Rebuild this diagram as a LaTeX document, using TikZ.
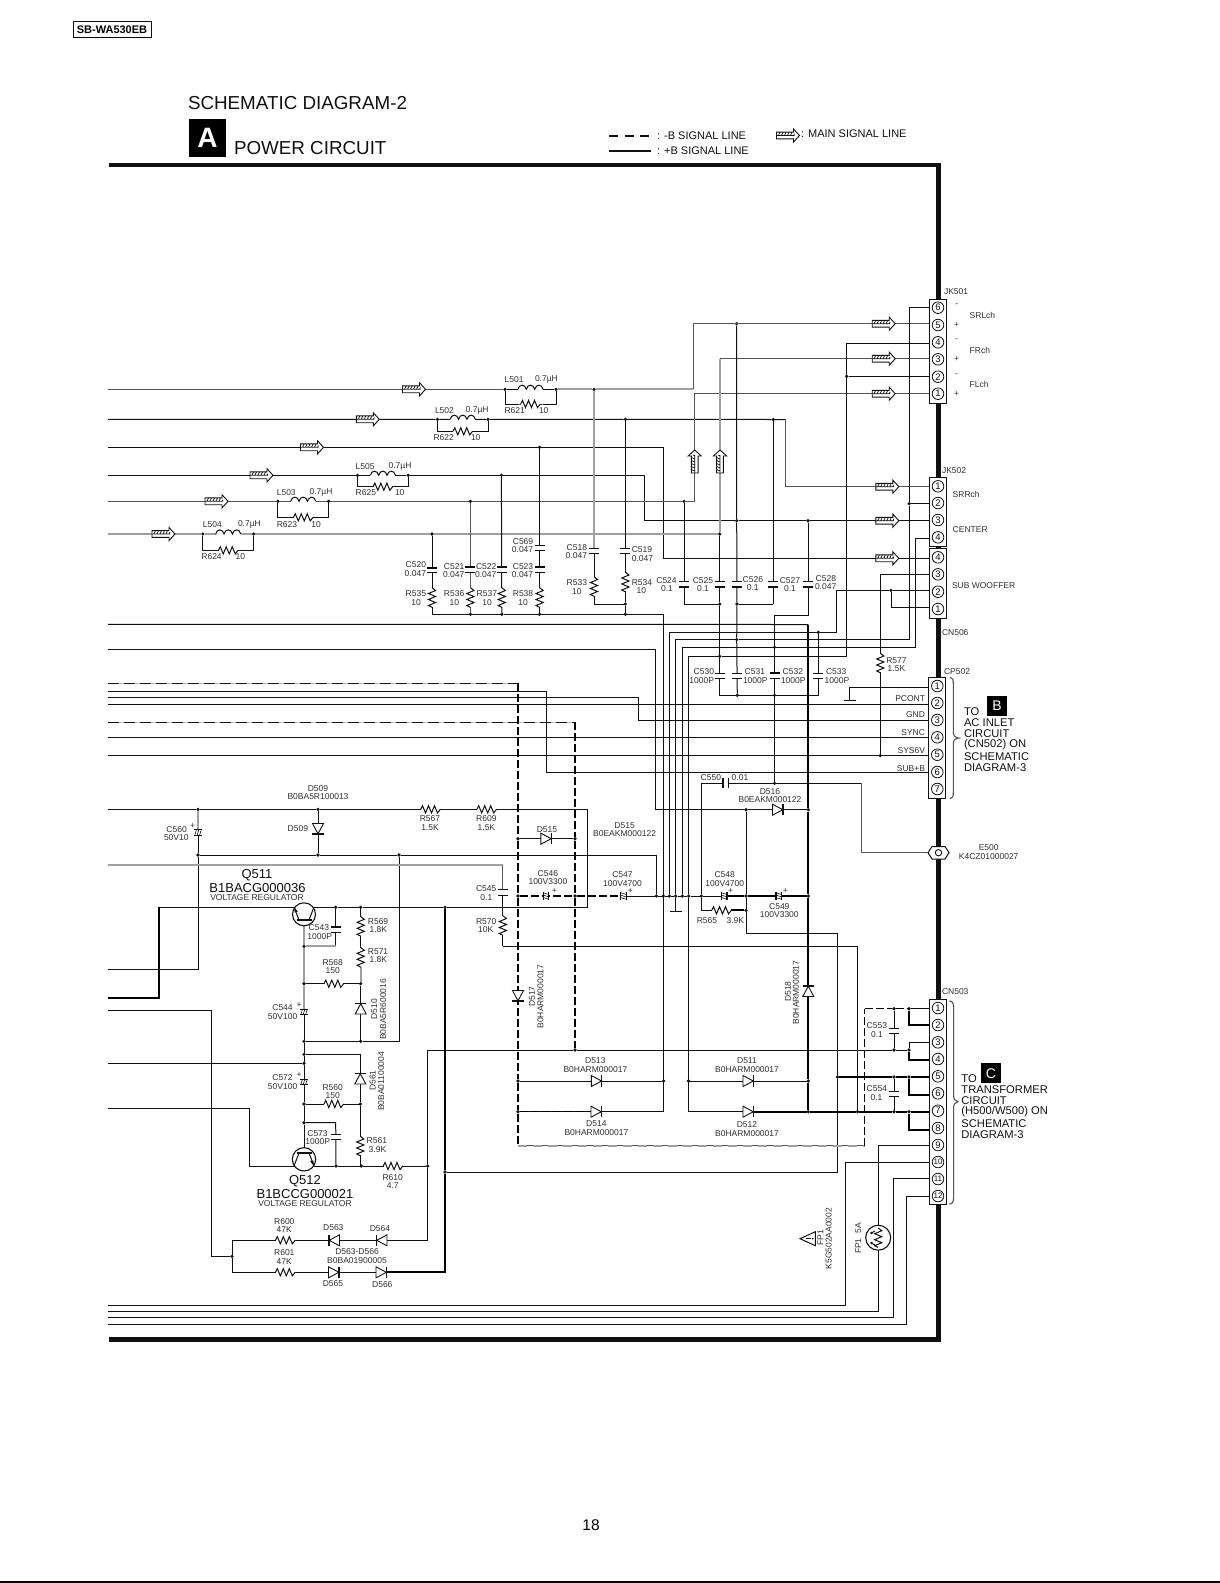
\documentclass[tikz,border=0pt]{standalone}
\usepackage{fontspec}
\setmainfont{Liberation Sans}
\usetikzlibrary{calc}
\definecolor{wcol}{HTML}{111111}
\definecolor{mcol}{HTML}{555555}
\definecolor{gcol}{HTML}{A0A0A0}
\definecolor{tcol}{HTML}{303030}
\newcounter{lc}
\newcounter{pc}
\tikzset{
  w/.style={line width=1pt,color=wcol},
  mw/.style={line width=1.1pt,color=mcol},
  gw/.style={line width=1.7pt,color=gcol},
  tw/.style={line width=2.1pt,color=black},
  dw/.style={line width=1.2pt,color=black,dash pattern=on 8pt off 3pt},
  gdw/.style={line width=1.6pt,color=gcol,dash pattern=on 9pt off 6pt},
  gsw/.style={line width=1.6pt,color=gcol!70},
  ddw/.style={line width=1.2pt,color=wcol,dash pattern=on 11pt off 5pt},
  frame/.style={line width=4.4pt,color=wcol},
  lbl/.style={inner sep=0pt,outer sep=0pt,yshift=-0.6pt,text=tcol,font=\fontsize{8.5}{10}\selectfont},
  midt/.style={text=wcol,font=\fontsize{11.2}{12}\selectfont},
  legt/.style={text=wcol,font=\fontsize{11}{12}\selectfont},
  bigt/.style={text=wcol,font=\fontsize{18.8}{20}\selectfont},
  qt/.style={text=wcol,font=\fontsize{13}{14}\selectfont},
  jdot/.style={circle,fill=wcol,inner sep=0pt,minimum size=3.6pt,outer sep=0pt},
  cbox/.style={draw=wcol,fill=white,line width=1.1pt,inner sep=0pt,outer sep=0pt},
  pinc/.style={circle,draw=wcol,fill=white,line width=0.8pt,inner sep=0pt,outer sep=0pt,minimum size=11.6pt,text=wcol,font=\fontsize{9.5}{10}\selectfont},
  badge/.style={fill=black,text=white,inner sep=0pt,outer sep=0pt},
  pics/zr/.style={code={
    \fill[white] (-9.4,-2.5) rectangle (9.4,2.5);
    \draw[w] (-9.8,0)--(-8,-3.6)--(-5,3.6)--(-2,-3.6)--(1,3.6)--(4,-3.6)--(7,3.6)--(9.8,0);}},
  pics/coil/.style={code={
    \fill[white] (-12.5,-1) rectangle (12.5,1);
    \draw[w] (-12.5,0) .. controls (-11.5,-5.5) and (-5.5,-5.5) .. (-4.2,0)
       .. controls (-3.2,-5.5) and (3.2,-5.5) .. (4.2,0)
       .. controls (5.5,-5.5) and (11.5,-5.5) .. (12.5,0);}},
  pics/cv/.style={code={
    \fill[white] (-5,-2.5) rectangle (5,2.5);
    \draw[line width=1.1pt,color=wcol] (-5,-2.7)--(5,-2.7) (-5,2.7)--(5,2.7);}},
  pics/cvb/.style={code={
    \fill[white] (-5,-2.5) rectangle (5,2.5);
    \draw[line width=2pt,color=black] (-5,-2.7)--(5,-2.7);
    \draw[line width=1.1pt,color=wcol] (-5,2.7)--(5,2.7);}},
  pics/pol/.style={code={
    \fill[white] (-4.2,-2.6) rectangle (4.2,2.6);
    \draw[line width=1.1pt,color=wcol] (-4.4,-2.8)--(4.4,-2.8) (-4.4,2.8)--(4.4,2.8);
    \draw[line width=0.6pt,color=wcol] (-3.2,2.6)--(-1.6,-2.6) (-0.8,2.6)--(0.8,-2.6) (1.6,2.6)--(3.2,-2.6);}},
  pics/dio/.style={code={
    \fill[white] (-5.5,-5.5) rectangle (5,5.5);
    \draw[line width=0.9pt,color=wcol,fill=white] (-5.5,-5.5)--(4.8,0)--(-5.5,5.5)--cycle;
    \draw[line width=1.2pt,color=wcol] (5,-5.6)--(5,5.6);}},
  pics/sarr/.style={code={
    \draw[line width=0.9pt,color=wcol,fill=white] (-11.5,-3.4)--(5.5,-3.4)--(5.5,-6.6)--(11.5,0)--(5.5,6.6)--(5.5,3.4)--(-11.5,3.4)--cycle;
    \draw[line width=0.7pt,color=wcol] (-11.5,0)--(6.5,0) (-9.5,0)--(-8,-3.4) (-6.5,0)--(-5,-3.4) (-3.5,0)--(-2,-3.4) (-0.5,0)--(1,-3.4) (2.5,0)--(4,-3.4) (5.5,0)--(6.5,-1.8);}},
  pics/gnd/.style={code={\draw[line width=1pt,color=wcol] (-6,0)--(6,0);}}
}
\newcommand\Tc[4][]{\stepcounter{lc}\node[lbl,#1] (lb\thelc) at (#2,#3) {#4};}
\newcommand\Te[4][]{\stepcounter{lc}\node[lbl,anchor=east,#1] (lb\thelc) at (#2,#3) {#4};}
\newcommand\Tw[4][]{\stepcounter{lc}\node[lbl,anchor=west,#1] (lb\thelc) at (#2,#3) {#4};}
\newcommand\jn[3]{\node[jdot] (#1) at (#2,#3) {};}
% pin: name, cx, cy, text, wire y, box-left x
\newcommand\pinn[6]{\node[pinc] (#1) at (#2,#3) {#4}; \coordinate (#1w) at (#6,#5);}
\newcommand\lrnet[3]{%
  \draw[w] (#1) |- ($(#1)!.5!(#2)+(0,#3)$) -| (#2);
  \pic at ($(#1)!.5!(#2)$) {coil};
  \pic at ($(#1)!.5!(#2)+(0,#3)$) {zr};}
\begin{document}
\begin{tikzpicture}[x=1pt,y=-1pt]
\useasboundingbox (0,0) rectangle (1220,1583);
\fill[white] (0,0) rectangle (1220,1583);
\fill[black] (0,1581.4) rectangle (1220,1583);

% frame
\coordinate (fa) at (108.5,165);
\coordinate (fb) at (938.4,165);
\coordinate (fc) at (938.4,1339.6);
\coordinate (fd) at (108.5,1339.6);
\draw[frame,miter limit=10] (fa)--(fb)--(fc)--(fd);

% header
\node[cbox,minimum width=78pt,minimum height=16pt,line width=1pt,font=\fontsize{11}{12}\selectfont\bfseries,text=black] (model) at (112,29.5) {SB-WA530EB};
\fill[black] (73,36.6) rectangle (151,38.4);
\Tw[bigt]{188}{102.5}{SCHEMATIC DIAGRAM-2}
\node[badge,minimum width=37pt,minimum height=38pt,font=\fontsize{28}{30}\selectfont\bfseries] (badgeA) at (207.5,138) {A};
\Tw[bigt]{234}{147}{POWER CIRCUIT}
\coordinate (lega) at (609,136); \coordinate (legb) at (651,136);
\coordinate (legc) at (609,151); \coordinate (legd) at (651,151);
\draw[line width=1.4pt,color=wcol,dash pattern=on 9pt off 6.5pt] (lega)--(legb);
\draw[line width=1.6pt,color=wcol] (legc)--(legd);
\Tw[legt]{657}{135.5}{: -B SIGNAL LINE}
\Tw[legt]{657}{150.5}{: +B SIGNAL LINE}
\pic at (788,135.5) {sarr};
\Tw[legt]{801}{133.5}{: MAIN SIGNAL LINE}
\Tc[font=\fontsize{15.5}{16}\selectfont,text=black]{591}{1525}{18}

% left edge coordinates
\foreach \n/\y in {e1/389.3,e2/419.3,e3/447.3,e4/475.3,e5/501.3,e6/534,e7/624.3,e8/649.3,e9/683.3,e10/691.7,e11/697.7,e12/704.3,e13/722.3,e14/737.3,e15/755.5,e16/809.3,e17/865,e18/969.3,e19/998,e20/1010.7,e21/1063.3,e22/1108.3,e23/1305.3,e24/1311.3,e25/1317.3,e26/1324.3}
  \coordinate (\n) at (108,\y);

% connector boxes
\node[cbox,minimum width=17pt,minimum height=104.4pt] (JK501) at (937.9,351.5) {};
\node[cbox,minimum width=17pt,minimum height=69.4pt] (JK502) at (937.9,512) {};
\node[cbox,minimum width=17pt,minimum height=69.6pt] (SW) at (937.9,583.5) {};
\node[cbox,minimum width=17.4pt,minimum height=121.4pt] (CP502) at (937,738) {};
\node[cbox,minimum width=16.8pt,minimum height=205pt] (CN503) at (938,1101.8) {};

% pins
\pinn{A6}{938}{307.7}{6}{307.7}{929.4}
\pinn{A5}{938}{325}{5}{323.7}{929.4}
\pinn{A4}{938}{342.3}{4}{343.3}{929.4}
\pinn{A3}{938}{359.3}{3}{358.7}{929.4}
\pinn{A2}{938}{376.7}{2}{376.3}{929.4}
\pinn{A1}{938}{393.7}{1}{393.7}{929.4}
\pinn{B1}{938}{486.3}{1}{486.7}{929.4}
\pinn{B2}{938}{503}{2}{503.7}{929.4}
\pinn{B3}{938}{520}{3}{520.7}{929.4}
\pinn{B4}{938}{537.3}{4}{538.3}{929.4}
\pinn{S4}{938}{557.3}{4}{558.3}{929.4}
\pinn{S3}{938}{574.3}{3}{574.3}{929.4}
\pinn{S2}{938}{591.7}{2}{590.3}{929.4}
\pinn{S1}{938}{609}{1}{607.3}{929.4}
\pinn{D1}{937.3}{686}{1}{687.7}{928.3}
\pinn{D2}{937.3}{703}{2}{704.3}{928.3}
\pinn{D3}{937.3}{720}{3}{720.3}{928.3}
\pinn{D4}{937.3}{737.3}{4}{737.3}{928.3}
\pinn{D5}{937.3}{754.7}{5}{755.5}{928.3}
\pinn{D6}{937.3}{772}{6}{772.5}{928.3}
\pinn{D7}{937.3}{789}{7}{789}{928.3}
\pinn{C1}{938}{1008}{1}{1008.7}{929.6}
\pinn{C2}{938}{1025}{2}{1025.3}{929.6}
\pinn{C3}{938}{1042.3}{3}{1042.3}{929.6}
\pinn{C4}{938}{1059}{4}{1059.7}{929.6}
\pinn{C5}{938}{1076.3}{5}{1077}{929.6}
\pinn{C6}{938}{1093.3}{6}{1095}{929.6}
\pinn{C7}{938}{1110.7}{7}{1111.7}{929.6}
\pinn{C8}{938}{1128}{8}{1129.7}{929.6}
\pinn{C9}{938}{1145}{9}{1145.7}{929.6}
\tikzset{pinc/.append style={font=\fontsize{8}{9}\selectfont}}
\pinn{C10}{938}{1162}{10}{1162.3}{929.6}
\pinn{C11}{938}{1179}{11}{1178.7}{929.6}
\pinn{C12}{938}{1196}{12}{1196}{929.6}

% junction dots
\jn{ja1}{505}{389.3}\jn{ja2}{556}{389.3}\jn{ja3}{594}{389.3}\jn{ja4}{736.7}{323.7}
\jn{jb1}{437.5}{419.3}\jn{jb2}{488}{419.3}\jn{jb3}{625.4}{419.3}\jn{jb4}{773.3}{419.5}
\jn{jc1}{539.6}{447.3}
\jn{jd1}{357.5}{475.3}\jn{jd2}{408.2}{475.3}\jn{jd3}{501.4}{475.3}
\jn{je1}{277.9}{501.3}\jn{je2}{328.6}{501.3}\jn{je3}{470.4}{501.3}\jn{je4}{684}{501.3}
\jn{jf1}{202.9}{534}\jn{jf2}{253.6}{534}\jn{jf3}{432}{534}\jn{jf4}{719.7}{534}
\jn{jr1}{470.4}{614.3}\jn{jr2}{501.8}{614.3}\jn{jr3}{539.6}{614.3}\jn{jr4}{625.4}{614.3}\jn{jr5}{625.4}{604}
\jn{jk1}{719.7}{604}\jn{jk2}{737}{604}\jn{jk3}{736.7}{520.7}\jn{jk4}{808}{520.7}
\jn{jm1}{846.7}{376.3}\jn{jm2}{909.2}{503.7}\jn{jm3}{891}{590.3}
\jn{jn1}{818.3}{632.3}\jn{jn2}{736.7}{639.5}\jn{jn3}{774.5}{647.3}\jn{jn4}{719.7}{656.3}
\jn{jp1}{737.3}{695.3}\jn{jp2}{774.5}{695.3}\jn{jp3}{880.3}{755.5}\jn{jp4}{774.5}{783.3}
\jn{jq1}{746}{809.7}\jn{jq2}{808.3}{809.7}
\jn{jg1}{198}{809.3}\jn{jg2}{318}{809.3}\jn{jg3}{198}{855}\jn{jg4}{318}{855}\jn{jg5}{399}{855}
\jn{jh1}{518}{838.7}\jn{jh2}{575}{838.7}\jn{jh3}{518}{896}\jn{jh4}{575}{896}
\jn{ju1}{656.4}{896}\jn{ju2}{663.3}{896}\jn{ju3}{669.3}{896}\jn{ju4}{675.7}{896}\jn{ju5}{682.3}{896}\jn{ju6}{688.7}{896}\jn{ju7}{701.3}{896}\jn{ju8}{746}{896}\jn{ju9}{808.3}{896}\jn{ju10}{746}{910.3}
\jn{jv1}{335.7}{907.3}\jn{jv2}{360.7}{907.3}\jn{jv3}{445}{907.3}
\jn{jw1}{304}{946.3}\jn{jw2}{304}{983.7}\jn{jw3}{360.7}{983.7}\jn{jw4}{304}{1041.3}\jn{jw5}{360.7}{1041.3}\jn{jw6}{304}{1054.3}\jn{jw7}{304}{1063.3}\jn{jw8}{304}{1104}\jn{jw9}{360.3}{1104}\jn{jw10}{304}{1122.7}
\jn{jx1}{336}{1166}\jn{jx2}{361.3}{1166}\jn{jx3}{427.7}{1166}\jn{jx4}{445}{1172}
\jn{jy1}{232}{1256.3}
\jn{jz1}{575}{1050}\jn{jz2}{894}{1050}\jn{jz3}{909}{1050}
\jn{js1}{518}{1081}\jn{js2}{663.6}{1081}\jn{js3}{518}{1111.7}\jn{js4}{688.5}{1081}\jn{js5}{808.3}{1081}
\jn{jt1}{808.3}{1111.7}\jn{jt2}{857.5}{1111.7}\jn{jt3}{894}{1111.7}\jn{jt4}{909}{1111.7}
\jn{jt5}{837.5}{1077}\jn{jt6}{894}{1077}\jn{jt7}{909}{1077}\jn{jt8}{894}{1008.7}\jn{jt9}{909}{1008.7}

% signal lines from the left
\draw[mw] (e1)--(ja1);
\draw[w] (ja1)--(ja2);
\draw[gw] (ja2)--(ja3)--(693.3,389.3);
\draw[mw] (693.3,389.3)--(693.3,323.7)--(A5w);
\lrnet{ja1}{ja2}{14.7}
\draw[w] (e2)--(jb1)--(jb2)--(jb3)--(jb4)--(785.7,419.5);
\draw[mw] (785.7,419.5)--(785.7,486.7)--(B1w);
\lrnet{jb1}{jb2}{12}
\draw[w] (e3)--(jc1)--(663.3,447.3)--(663.3,558.3)--(S4w);
\draw[w] (e4)--(jd1)--(jd2)--(jd3)--(644.3,475.3)--(644.3,520.7)--(jk3)--(jk4)--(B3w);
\lrnet{jd1}{jd2}{11.4}
\draw[mw] (e5)--(je1)--(je2)--(je3)--(je4)--(694.3,501.3)--(694.3,393.7)--(A1w);
\lrnet{je1}{je2}{16}
\draw[gw] (e6)--(jf1)--(jf2)--(jf3)--(jf4)--(719.7,358.7);
\draw[mw] (719.7,358.7)--(A3w);
\lrnet{jf1}{jf2}{16.3}

% RC networks
\draw[w] (jf3)--(432,614.3)--(jr1)--(jr2)--(jr3)--(jr4)--(663.3,614.3)--(663.3,1111.7)--(js3);
\draw[mw] (je3)--(jr1);
\draw[w] (jd3)--(jr2);
\draw[w] (jc1)--(jr3);
\draw[gw] (ja3)--(594,548);
\draw[w] (594,553)--(594,604)--(jr5);
\draw[w] (jb3)--(jr5)--(jr4);
\pic at (432,570.2) {cvb};
\pic at (470.4,569.7) {cvb};
\pic at (501.8,569.7) {cv};
\pic at (539.6,547.8) {cv};
\pic at (539.6,569.7) {cvb};
\pic at (594,550.8) {cv};
\pic at (625.4,550.8) {cv};
\pic[rotate=90] at (432,597.5) {zr};
\pic[rotate=90] at (470.4,597.5) {zr};
\pic[rotate=90] at (501.8,597.5) {zr};
\pic[rotate=90] at (539.6,597.5) {zr};
\pic[rotate=90] at (594,586.5) {zr};
\pic[rotate=90] at (625.4,582) {zr};

% C524 - C533
\draw[w] (je4)--(684,604)--(jk1);
\draw[w] (jk2)--(773.3,604);
\draw[w] (jf4)--(jk1)--(jn4)--(719.7,695.3)--(jp1)--(jp2)--(818.3,695.3)--(jn1);
\draw[w] (ja4)--(jk3)--(jk2)--(jn2)--(jp1);
\draw[w] (jb4)--(773.3,604);
\draw[w] (jk4)--(808,615.7)--(774.5,615.7)--(jn3)--(jp2)--(jp4);
\pic at (684,584.3) {cv};
\pic at (719.7,584.3) {cv};
\pic at (736.7,584.3) {cv};
\pic at (773.3,584.3) {cv};
\pic at (808,584.3) {cv};
\pic at (719.7,676) {cv};
\pic at (737,676) {cv};
\pic at (774.5,676) {cvb};
\pic at (818.3,676) {cv};

% connectors going to jacks
\draw[w] (e7)--(808.3,624.5);
\draw[tw] (808.3,624.5)--(jq2)--(ju9)--(js5)--(jt1);
\draw[w] (e8)--(655.5,649.3)--(655.5,809.7)--(jq1)--(jq2);
\draw[w] (jq1)--(ju8)--(ju10)--(746,933)--(837.5,933)--(jt5)--(837.5,1172)--(jx4);
\draw[w] (ju3)--(669.3,632.3)--(jn1)--(836.7,632.3)--(836.7,590.3)--(jm3)--(S2w);
\draw[w] (jm3)--(891,607.3)--(S1w);
\draw[w] (ju4)--(675.7,639.5)--(jn2)--(909.2,639.5)--(jm2)--(909.2,307.7)--(A6w);
\draw[w] (jm2)--(B2w);
\pic at (675.7,911.7) {gnd};
\draw[w] (ju4)--(675.7,911.7);
\draw[w] (ju5)--(682.3,647.3)--(jn3)--(915.7,647.3)--(915.7,538.3)--(B4w);
\draw[w] (ju6)--(688.7,656.3)--(jn4)--(846.7,656.3)--(jm1)--(846.7,343.3)--(A4w);
\draw[w] (jm1)--(A2w);
\draw[w] (ju6)--(688.7,1111.7)--(744,1111.7);
\draw[w] (S3w)--(880.3,574.3)--(jp3);
\pic[rotate=90] at (880.3,663) {zr};
\draw[w] (D1w)--(849.3,687.7)--(849.3,700.3);
\pic at (850,700.3) {gnd};

% CP502 lines
\draw[gsw] (e9)--(518,683.3);
\draw[ddw] (e9)--(518,683.3);
\draw[w] (e10)--(546.4,691.7)--(546.4,772.5)--(D6w);
\draw[w] (e11)--(638,697.7)--(638,720.3)--(D3w);
\draw[w] (e12)--(D2w);
\draw[gsw] (e13)--(575,722.3);
\draw[ddw] (e13)--(575,722.3);
\draw[w] (e14)--(D4w);
\draw[w] (e15)--(jp3)--(D5w);

% dashed return paths
\draw[dw] (518,683.3)--(jh1)--(jh3)--(js1)--(js3)--(518,1145.7);
\draw[line width=0.8pt,color=mcol] (518,1145.7)--(864.6,1145.7);
\draw[gdw] (518,1145.7)--(864.6,1145.7);
\draw[dw] (864.6,1145.7)--(864.6,1008.7);
\draw[dw] (864.6,1008.7)--(jt8)--(jt9);
\draw[w] (jt9)--(C1w);
\draw[dw] (575,722.3)--(jh2)--(jh4)--(jz1);
\draw[line width=1.4pt,color=wcol] (jh1)--(jh2);
\pic at (546.4,838.7) {dio};
\draw[dw] (jh3)--(jh4)--(620,896);
\draw[w] (626,896)--(ju1)--(ju2)--(ju3)--(ju4)--(ju5)--(ju6)--(ju7)--(721.5,896);
\draw[tw] (726.5,896)--(ju8)--(776,896) (781.5,896)--(ju9);
\pic[rotate=90] at (546,896) {pol};
\pic[rotate=90] at (623.4,896) {pol};
\pic[rotate=90] at (724.2,896) {pol};
\pic[rotate=90] at (778.8,896) {pol};

% main power lines
\draw[w] (e16)--(jg1)--(jg2)--(587.5,809.3)--(587.5,907.3)--(jv3)--(jv2)--(jv1)--(159,907.3);
\draw[tw] (159,907.3)--(159,998)--(e19);
\pic at (430.5,809.3) {zr};
\pic at (486.7,809.3) {zr};
\draw[gw] (jg1)--(198,830);
\draw[w] (198,835)--(jg3)--(198,969.3)--(e18);
\pic at (198,832.5) {pol};
\draw[w] (jg2)--(jg4);
\pic[rotate=-90] at (318,829) {dio};
\draw[w] (jg3)--(jg4)--(jg5)--(656.4,855)--(ju1);
\draw[w] (jg5)--(399,1041.3)--(jw5)--(jw4);
\draw[gw] (e17)--(502.9,865);
\draw[mw] (502.9,865)--(502.9,890);
\draw[w] (502.9,895)--(502.9,946.3);
\draw[w] (502.9,946.3)--(857.5,946.3)--(jt2);
\pic at (502.9,892.5) {cv};
\pic[rotate=90] at (502.9,925.5) {zr};
\draw[tw] (jv3)--(jx4)--(445,1272)--(387,1272);

% Q511/Q512 column
\draw[gw] (304,926)--(jw1)--(jw2)--(304,1009);
\draw[w] (304,1015)--(jw4)--(jw6)--(jw7)--(304,1079);
\draw[w] (304,1085)--(jw8)--(jw10)--(304,1148);
\pic at (304,1012) {pol};
\pic at (304,1082) {pol};
\draw[w] (jv1)--(335.7,927);
\draw[w] (335.7,932)--(335.7,946.3);
\draw[gw] (335.7,946.3)--(jw1);
\pic at (335.7,929.7) {cv};
\draw[w] (jv2)--(360.7,966);
\draw[gw] (360.7,966)--(jw3);
\draw[w] (jw3)--(jw5);
\pic[rotate=90] at (360.7,926.3) {zr};
\pic[rotate=90] at (360.7,957.3) {zr};
\pic[rotate=90] at (360.7,1008.5) {dio};
\draw[w] (jw2)--(jw3);
\pic at (333.8,983.7) {zr};
\draw[w] (jw6)--(360.3,1054.3)--(jw9)--(360.3,1166);
\pic[rotate=90] at (360.3,1078.5) {dio};
\draw[w] (jw8)--(jw9);
\pic at (333.8,1104) {zr};
\pic[rotate=90] at (360.3,1146) {zr};
\draw[w] (jw10)--(335.7,1122.7)--(jx1);
\pic at (335.7,1137) {cv};
\draw[w] (e21)--(jw7);
\draw[gdw] (e22)--(249.7,1108.3);
\draw[w] (e22)--(249.7,1108.3)--(249.7,1166)--(jx1)--(jx2)--(jx3);
\pic at (393,1166) {zr};
\draw[w] (jx3)--(427.7,1050)--(jz1)--(jz2)--(jz3);
\draw[w] (jx3)--(427.7,1240.3)--(232,1240.3)--(jy1)--(232,1272.3)--(387,1272.3);
\draw[w] (e20)--(211.3,1010.7)--(211.3,1256.3)--(jy1);
\pic at (285.3,1240.3) {zr};
\pic at (285.3,1272.3) {zr};
\pic[rotate=180] at (334,1240.3) {dio};
\pic[rotate=180] at (381.5,1240.3) {dio};
\pic at (334,1272.3) {dio};
\pic at (381.5,1272.3) {dio};

% transistors
\node[circle,draw=wcol,fill=white,line width=1.1pt,minimum size=23pt,inner sep=0pt] (Q511) at (304,914.3) {};
\node[circle,draw=wcol,fill=white,line width=1.1pt,minimum size=23.4pt,inner sep=0pt] (Q512) at (304,1159.3) {};
\draw[line width=1.3pt,color=wcol] (296.5,920)--(311.5,920);
\draw[w] (299,920)--(294,907) (309,920)--(314,907);
\fill[wcol] (294,907)--(297.8,911.5)--(294.8,912.6)--cycle;
\draw[line width=1.3pt,color=wcol] (296.5,1153)--(311.5,1153);
\draw[w] (299,1153)--(294,1166) (309,1153)--(314,1166);
\fill[wcol] (314,1166)--(310.2,1161.5)--(313.2,1160.4)--cycle;

% bridge
\draw[w] (js1)--(js2);
\draw[w] (js4)--(js5);
\draw[dw] (js3)--(590,1111.7);
\pic[rotate=-90] at (518,996) {dio};
\pic[rotate=90] at (808.3,991) {dio};
\pic at (596.8,1081) {dio};
\pic at (596.5,1111.7) {dio};
\pic at (748.5,1081) {dio};
\pic at (748.5,1111.7) {dio};
\draw[tw] (754,1111.7)--(jt1)--(jt2)--(jt3)--(jt4)--(C7w);
\draw[tw] (jt4)--(909,1129.7)--(C8w);
\draw[tw] (jt5)--(jt6)--(jt7)--(C5w);
\draw[tw] (jt7)--(909,1095)--(C6w);
\draw[tw] (jt9)--(909,1025.3)--(C2w);
\draw[w] (jz3)--(909,1042.3)--(C3w);
\draw[tw] (jz3)--(909,1059.7)--(C4w);
\draw[w] (jt8)--(jz2);
\draw[w] (jt6)--(jt3);
\pic at (894,1031) {cv};
\pic at (894,1094) {cv};

% C550, R565, E500
\draw[w] (ju7)--(701.3,783.3)--(jp4)--(861.7,783.3);
\draw[mw] (861.7,783.3)--(861.7,852.7)--(928,852.7);
\pic[rotate=90] at (725.7,783.3) {cv};
\draw[w] (ju7)--(701.3,910.3)--(731,910.3);
\draw[tw] (731,910.3)--(ju10);
\pic at (721.5,910.3) {zr};
\draw[line width=1pt,color=wcol,fill=white] (928,852.7)--(932,846.5)--(945,846.5)--(949,852.7)--(945,859)--(932,859)--cycle;
\node[circle,draw=wcol,line width=0.9pt,minimum size=6.4pt,inner sep=0pt] (E500) at (938.5,852.7) {};
\pic at (778,809.7) {dio};

% CN503 lower pins
\draw[w] (C9w)--(878.2,1145.7)--(878.2,1311.3)--(e24);
\draw[w] (C10w)--(845.7,1162.3)--(845.7,1305.3)--(e23);
\draw[w] (C11w)--(893.2,1178.7)--(893.2,1317.3)--(e25);
\draw[w] (C12w)--(906.8,1196)--(906.8,1324.3)--(e26);
\node[circle,draw=wcol,fill=white,line width=1.1pt,minimum size=25pt,inner sep=0pt] (FP1) at (878.2,1237.7) {};
\pic[rotate=90] at (878.2,1237.7) {zr};
\fill[wcol] (871.5,1233) circle (1.4) (871.5,1243) circle (1.4);
\draw[w] (871.5,1233)--(875,1231) (871.5,1243)--(875,1245);
\draw[w,fill=white] (800,1238.7)--(815.4,1231.7)--(815.4,1245.7)--cycle;
\draw[line width=1.1pt,color=wcol] (805.5,1238.7)--(811,1238.7);
\fill[wcol] (812.8,1238.7) circle (0.9);

% arrows
\pic at (414,389.3) {sarr};
\pic at (367.8,419.3) {sarr};
\pic at (312,447.3) {sarr};
\pic at (261.5,475.3) {sarr};
\pic at (216.5,501.3) {sarr};
\pic at (163.5,534) {sarr};
\pic at (883.7,323.7) {sarr};
\pic at (883.7,358.7) {sarr};
\pic at (883.7,393.7) {sarr};
\pic at (887.3,486.7) {sarr};
\pic at (887.3,520.7) {sarr};
\pic at (887.3,558.3) {sarr};
\pic[rotate=90] at (694.7,461.5) {sarr};
\pic[rotate=90] at (720,461.5) {sarr};

% braces
\draw[mw] (950,677.3) .. controls (953,677.3) and (953.3,680) .. (953.3,684) -- (953.3,732) .. controls (953.3,736) and (955,737.5) .. (959,738) .. controls (955,738.5) and (953.3,740) .. (953.3,744) -- (953.3,792) .. controls (953.3,796) and (953,798.7) .. (950,798.7);
\draw[mw] (949.3,1001) .. controls (952.5,1001) and (953.6,1003) .. (953.6,1008) -- (953.6,1095) .. controls (953.6,1099.5) and (955,1101) .. (958,1101.7) .. controls (955,1102.4) and (953.6,1104) .. (953.6,1108) -- (953.6,1197) .. controls (953.6,1202) and (952.5,1204) .. (949.3,1204);

% L / R network labels
\Tw{504.6}{379}{L501}\Tw{535}{379}{0.7µH}\Tw{504.6}{410}{R621}\Tw{539}{410}{10}
\Tw{435}{410}{L502}\Tw{465.7}{410}{0.7µH}\Tw{433.6}{437}{R622}\Tw{471}{437}{10}
\Tw{355.7}{466}{L505}\Tw{388.6}{466}{0.7µH}\Tw{355.7}{492}{R625}\Tw{395}{492}{10}
\Tw{276.8}{492}{L503}\Tw{309.6}{492}{0.7µH}\Tw{276.8}{524}{R623}\Tw{311.4}{524}{10}
\Tw{202.9}{524}{L504}\Tw{238}{524}{0.7µH}\Tw{201.4}{556}{R624}\Tw{235.7}{556}{10}

\Te{426}{564}{C520}\Te{426}{572.7}{0.047}\Te{426}{593}{R535}\Tc{416}{602}{10}
\Te{464.3}{566.3}{C521}\Te{464.3}{574}{0.047}\Te{464.3}{593}{R536}\Tc{454.3}{602}{10}
\Te{496.4}{566.3}{C522}\Te{496.4}{574}{0.047}\Te{497}{593}{R537}\Tc{487}{602}{10}
\Te{533.2}{541.3}{C569}\Te{533.2}{549.3}{0.047}\Te{533.2}{566.3}{C523}\Te{533.2}{574}{0.047}\Te{533.2}{593}{R538}\Tc{523}{602}{10}
\Te{587}{547}{C518}\Te{587}{555}{0.047}\Te{587}{581.7}{R533}\Tc{576.8}{590.7}{10}
\Tw{631.8}{549}{C519}\Tw{631.8}{558}{0.047}\Tw{631.8}{581.7}{R534}\Tc{641.4}{590}{10}
\Te{676.7}{580}{C524}\Tc{667}{588}{0.1}
\Tc{703}{580}{C525}\Tc{703}{588}{0.1}
\Tw{742.7}{579}{C526}\Tc{752.7}{587}{0.1}
\Tc{790}{580}{C527}\Tc{790}{588}{0.1}
\Tw{815.7}{578}{C528}\Tw{815}{586}{0.047}
\Te{714}{671}{C530}\Te{714}{680}{1000P}
\Tw{744.7}{671}{C531}\Tw{743}{680}{1000P}
\Tw{782.7}{671}{C532}\Tw{781}{680}{1000P}
\Tw{826}{671}{C533}\Tw{824.7}{680}{1000P}
\Tw{886.3}{660}{R577}\Tw{887.7}{668}{1.5K}

% jack labels
\Tw{944}{291}{JK501}
\Tc{956.7}{305}{-}\Tc{956.7}{324}{+}\Tc{956.7}{339.7}{-}\Tc{956.7}{358}{+}\Tc{956.7}{374.7}{-}\Tc{956.7}{393}{+}
\Tw{969.7}{315}{SRLch}\Tw{969.7}{350}{FRch}\Tw{969.7}{384}{FLch}
\Tw{942}{470}{JK502}\Tw{952.7}{494}{SRRch}\Tw{952.7}{529}{CENTER}\Tw{952}{585}{SUB WOOFFER}\Tw{942}{632}{CN506}
\Tw{944}{671}{CP502}
\Te{925}{698}{PCONT}\Te{925}{714}{GND}\Te{925}{732}{SYNC}\Te{925}{750}{SYS6V}\Te{925}{767.7}{SUB+B}
\Tw[midt]{964}{711}{TO}
\node[badge,minimum width=20pt,minimum height=20pt,font=\fontsize{14}{15}\selectfont] (badgeB) at (997,706) {B};
\Tw[midt]{964}{722}{AC INLET}\Tw[midt]{964}{733}{CIRCUIT}\Tw[midt]{964}{744}{(CN502) ON}\Tw[midt]{964}{756}{SCHEMATIC}\Tw[midt]{964}{767}{DIAGRAM-3}
\Tc{988.7}{847}{E500}\Tc{988.7}{856}{K4CZ01000027}
\Tw{942}{991}{CN503}
\Tw[midt]{961.4}{1078}{TO}
\node[badge,minimum width=20pt,minimum height=20pt,font=\fontsize{14}{15}\selectfont] (badgeC) at (991,1073.3) {C};
\Tw[midt]{961.4}{1089}{TRANSFORMER}\Tw[midt]{961.4}{1100.3}{CIRCUIT}\Tw[midt]{961.4}{1111.3}{(H500/W500) ON}\Tw[midt]{961.4}{1123}{SCHEMATIC}\Tw[midt]{961.4}{1133.7}{DIAGRAM-3}

% middle labels
\Tc{318}{788}{D509}\Tc{318}{796}{B0BA5R100013}\Te{308}{828}{D509}
\Tc{430}{818}{R567}\Tc{430}{827}{1.5K}\Tc{486.4}{818}{R609}\Tc{486.4}{827}{1.5K}
\Te{186.8}{829}{C560}\Te{188.6}{837}{50V10}\Tc{192.5}{825.3}{+}
\Tc{547}{829}{D515}\Tc{624.6}{825}{D515}\Tc{624.6}{833}{B0EAKM000122}
\Tc{547.9}{873}{C546}\Tc{547.9}{881}{100V3300}\Tc{554.3}{890.7}{+}
\Tc{622.5}{874}{C547}\Tc{622.5}{882.7}{100V4700}\Tc{630.4}{890.7}{+}
\Tc{724.7}{874.3}{C548}\Tc{724.7}{883}{100V4700}\Tc{730.7}{890.7}{+}
\Tc{779.3}{906}{C549}\Tc{779.3}{914}{100V3300}\Tc{785.3}{890.7}{+}
\Te{496.4}{888}{C545}\Tc{486.4}{897}{0.1}\Te{496.4}{920.7}{R570}\Tc{485.7}{929}{10K}
\Tc{707}{920}{R565}\Tc{735.3}{920}{3.9K}
\Te{721}{777}{C550}\Tw{731.7}{777}{0.01}
\Tc{770}{791}{D516}\Tc{770}{799}{B0EAKM000122}
\Tc[qt]{257}{874.3}{Q511}\Tc[qt]{257.5}{887.3}{B1BACG000036}\Tc{257}{897}{VOLTAGE REGULATOR}
\Te{329}{927}{C543}\Te{332}{936}{1000P}
\Tw{367.9}{921}{R569}\Tw{369.6}{929}{1.8K}\Tw{367.9}{951.3}{R571}\Tw{369.6}{959.3}{1.8K}
\Tc{332.7}{962}{R568}\Tc{332.7}{970}{150}
\Tc[rotate=90]{374.3}{1008.5}{D510}\Tc[rotate=90]{383.3}{1008.7}{B0BA5R600016}
\Te{292.7}{1007}{C544}\Te{297.3}{1016}{50V100}\Tc{299}{1004.3}{+}
\Te{292.7}{1077}{C572}\Te{297.3}{1086}{50V100}\Tc{299}{1074.3}{+}
\Tc{332.7}{1087}{R560}\Tc{332.7}{1095.3}{150}
\Tc[rotate=90]{372.7}{1080}{D561}\Tc[rotate=90]{381.3}{1080.8}{B0BA01100004}
\Te{327.7}{1133}{C573}\Te{330}{1141}{1000P}
\Tw{366.7}{1140}{R561}\Tw{368.7}{1149}{3.9K}
\Tc{392.7}{1177}{R610}\Tc{392.7}{1185}{4.7}
\Tc[qt]{305}{1180.3}{Q512}\Tc[qt]{305}{1193}{B1BCCG000021}\Tc{305}{1203}{VOLTAGE REGULATOR}
\Tc{284.3}{1221}{R600}\Tc{284.3}{1229}{47K}\Tc{284.3}{1252}{R601}\Tc{284.3}{1261}{47K}
\Tc{333.3}{1227}{D563}\Tc{380}{1228}{D564}\Tc{357}{1251}{D563-D566}\Tc{357}{1260}{B0BA01900005}\Tc{333}{1283}{D565}\Tc{382.3}{1284}{D566}
\Tc[rotate=90]{532}{996}{D517}\Tc[rotate=90]{540.4}{996}{B0HARM000017}
\Tc[rotate=90]{787.9}{991}{D518}\Tc[rotate=90]{796}{992}{B0HARM000017}
\Tc{595.4}{1060}{D513}\Tc{595.4}{1069}{B0HARM000017}
\Tc{596.4}{1123}{D514}\Tc{596.4}{1132}{B0HARM000017}
\Tc{747}{1060}{D511}\Tc{747}{1069}{B0HARM000017}
\Tc{747}{1124}{D512}\Tc{747}{1133}{B0HARM000017}
\Te{887}{1025}{C553}\Tc{877}{1034}{0.1}
\Te{887}{1088}{C554}\Tc{876.5}{1097}{0.1}
\Tc[rotate=90]{858.2}{1238}{FP1~~5A}
\Tc[rotate=90]{820.4}{1237}{FP1}\Tc[rotate=90]{828.6}{1238}{K5G502AA0002}
\end{tikzpicture}
\end{document}
